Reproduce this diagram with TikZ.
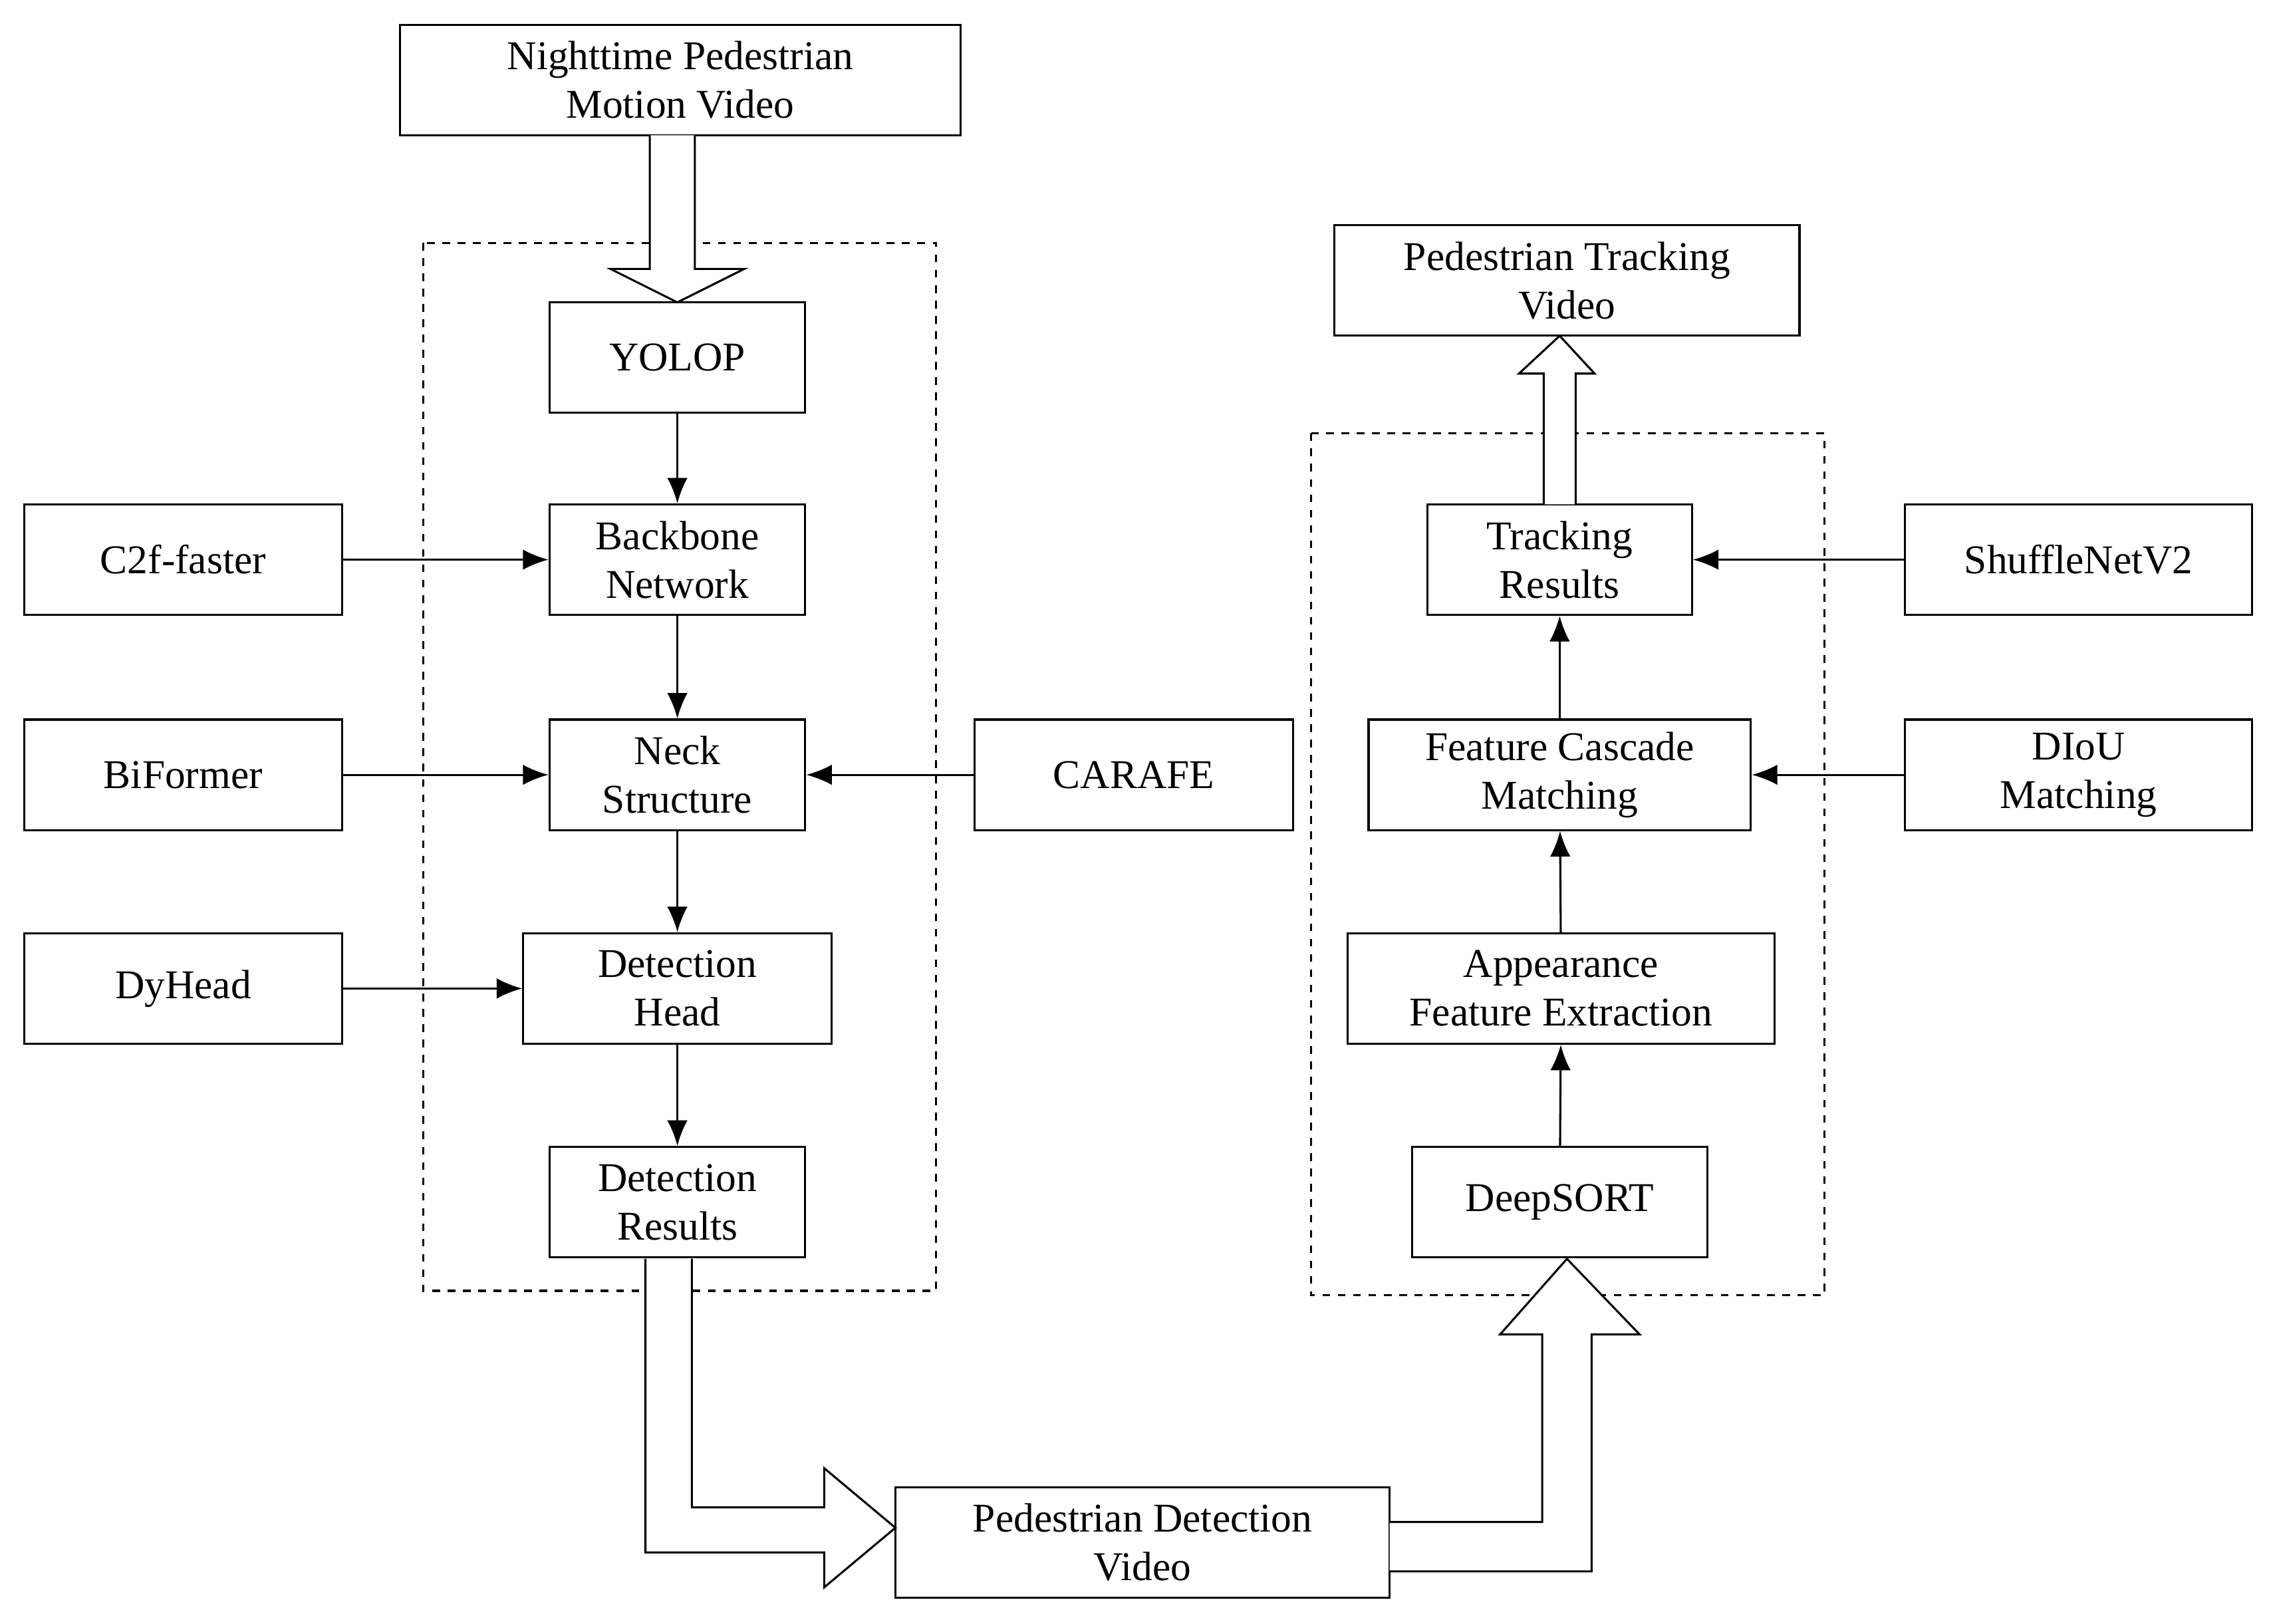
\documentclass[tikz,border=0pt]{standalone}
\usepackage{fontspec}
\setmainfont{Liberation Serif}
\usetikzlibrary{arrows.meta}
\begin{document}
\begin{tikzpicture}[x=0.02cm,y=-0.02cm,
  box/.style={draw,thick,minimum height=1.52cm,align=center,inner sep=0pt,font=\fontsize{16}{19}\selectfont},
  arr/.style={thick,-{Latex[length=10pt,width=8pt]}},
  hollow/.style={draw,thick,fill=white,line join=miter},
  every text node part/.style={align=center}]
\useasboundingbox (0,0) rectangle (1561,1117);
%dashed frames
\draw[thick,dashed] (291,167) rectangle (644,888);
\draw[thick,dashed] (902,298) rectangle (1255,891);
%left column
\node[box,minimum width=7.72cm] (video) at (468,55) {Nighttime Pedestrian\\Motion Video};
\node[box,minimum width=3.52cm] (yolop) at (466,246) {YOLOP};
\node[box,minimum width=3.52cm] (backbone) at (466,385) {Backbone\\Network};
\node[box,minimum width=3.52cm] (neck) at (466,533) {Neck\\Structure};
\node[box,minimum width=4.24cm] (dethead) at (466,680) {Detection\\Head};
\node[box,minimum width=3.52cm] (detres) at (466,827) {Detection\\Results};
%modules
\node[box,minimum width=4.38cm] (c2f) at (126,385) {C2f-faster};
\node[box,minimum width=4.38cm] (biformer) at (126,533) {BiFormer};
\node[box,minimum width=4.38cm] (dyhead) at (126,680) {DyHead};
\node[box,minimum width=4.38cm] (carafe) at (780,533) {CARAFE};
%right column
\node[box,minimum width=6.4cm] (pedtrack) at (1078,193) {Pedestrian Tracking\\Video};
\node[box,minimum width=3.64cm] (trackres) at (1073,385) {Tracking\\Results};
\node[box,minimum width=5.26cm] (cascade) at (1073,533) {Feature Cascade\\Matching};
\node[box,minimum width=5.88cm] (appear) at (1074,680) {Appearance\\Feature Extraction};
\node[box,minimum width=4.06cm] (deepsort) at (1073,827) {DeepSORT};
\node[box,minimum width=4.78cm] (shuffle) at (1430,385) {ShuffleNetV2};
\node[box,minimum width=4.78cm] (diou) at (1430,533) {DIoU\\Matching};
\node[box,minimum width=6.8cm] (peddet) at (786,1061) {Pedestrian Detection\\Video};
%thin arrows
\draw[arr] (yolop) -- (backbone);
\draw[arr] (backbone) -- (neck);
\draw[arr] (neck) -- (dethead);
\draw[arr] (dethead) -- (detres);
\draw[arr] (c2f) -- (backbone);
\draw[arr] (biformer) -- (neck);
\draw[arr] (dyhead) -- (dethead);
\draw[arr] (carafe) -- (neck);
\draw[arr] (deepsort) -- (appear);
\draw[arr] (appear) -- (cascade);
\draw[arr] (cascade) -- (trackres);
\draw[arr] (shuffle) -- (trackres);
\draw[arr] (diou) -- (cascade);
%hollow arrows
\draw[hollow] (447,93) -- (447,185) -- (420,185) -- (466,208) -- (512,185) -- (478,185) -- (478,93);
\draw[hollow] (444,866) -- (444,1068) -- (567,1068) -- (567,1092) -- (616,1051) -- (567,1010) -- (567,1037) -- (476,1037) -- (476,866);
\draw[hollow] (956,1081) -- (1095,1081) -- (1095,918) -- (1128,918) -- (1078,866) -- (1032,918) -- (1061,918) -- (1061,1047) -- (956,1047);
\draw[hollow] (1062,347) -- (1062,257) -- (1045,257) -- (1073,231) -- (1097,257) -- (1084,257) -- (1084,347);
\end{tikzpicture}
\end{document}
